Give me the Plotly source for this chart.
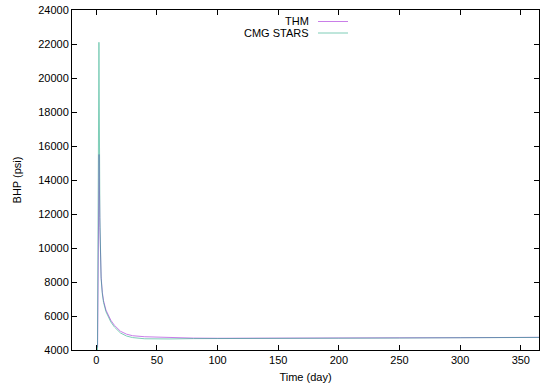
import plotly.graph_objects as go

# THM series
thm_t = [1.1, 2.3, 3, 4, 5, 6, 8, 10, 12, 15, 20, 25, 30, 40, 50, 60, 80, 100, 150, 200, 250, 300, 365]
thm_p = [4150, 15500, 11200, 8300, 7400, 6900, 6350, 6000, 5750, 5450, 5100, 4930, 4840, 4780, 4750, 4730, 4700, 4690, 4690, 4700, 4710, 4725, 4745]

# CMG STARS series
cmg_t = [1.0, 2.2, 3, 4, 5, 6, 8, 10, 12, 15, 20, 25, 30, 40, 50, 60, 80, 100, 150, 200, 250, 300, 365]
cmg_p = [4000, 22100, 11800, 8200, 7300, 6800, 6250, 5900, 5650, 5350, 5000, 4820, 4730, 4660, 4640, 4650, 4670, 4680, 4685, 4695, 4705, 4720, 4740]

x_ticks = [0, 50, 100, 150, 200, 250, 300, 350]
y_ticks = [4000, 6000, 8000, 10000, 12000, 14000, 16000, 18000, 20000, 22000, 24000]
y_tick_text = [str(v) for v in y_ticks]
x_tick_text = [str(v) for v in x_ticks]

FONT = "Liberation Sans, Arial, sans-serif"

fig = go.Figure()
fig.add_trace(go.Scatter(x=thm_t, y=thm_p, mode="lines", name="THM",
                         line=dict(color="#9400d3", width=1), opacity=0.5))
fig.add_trace(go.Scatter(x=cmg_t, y=cmg_p, mode="lines", name="CMG STARS",
                         line=dict(color="#009e73", width=1), opacity=0.5))

L, R, T, B = 72, 539, 10, 350
W, H = 550, 391


def px(xp):
    return (xp - L) / (R - L)


def py(yp):
    return (B - yp) / (B - T)


legend_items = [("THM", "#9400d3", 21.5), ("CMG STARS", "#009e73", 33)]
for name, col, yy in legend_items:
    fig.add_annotation(x=px(311), y=py(yy), xref="paper", yref="paper", text=name,
                       showarrow=False, xanchor="right", yanchor="middle",
                       font=dict(family=FONT, size=11, color="#000000"))
    fig.add_shape(type="line", xref="paper", yref="paper", x0=px(318), x1=px(348),
                  y0=py(yy), y1=py(yy), line=dict(color=col, width=1), opacity=0.5)

axis_common = dict(showgrid=False, zeroline=False, showline=True, linecolor="#000000",
                   linewidth=1, ticks="inside", ticklen=5, tickcolor="#000000",
                   mirror="allticks", automargin=False,
                   tickfont=dict(family=FONT, size=11, color="#000000"))

fig.update_layout(
    width=W, height=H,
    margin=dict(l=L, r=W - R, t=T, b=H - B),
    plot_bgcolor="white", paper_bgcolor="white",
    showlegend=False,
    xaxis=dict(range=[-20, 365], tickmode="array", tickvals=x_ticks, ticktext=x_tick_text,
               title=dict(text="Time (day)", font=dict(family=FONT, size=11, color="#000000"), standoff=8),
               **axis_common),
    yaxis=dict(range=[4000, 24000], tickmode="array", tickvals=y_ticks, ticktext=y_tick_text,
               title=dict(text="BHP (psi)", font=dict(family=FONT, size=11, color="#000000"), standoff=14),
               **axis_common),
)

fig.write_html("out.html", config={"displayModeBar": False},
               post_script="document.body.style.margin='0';")
